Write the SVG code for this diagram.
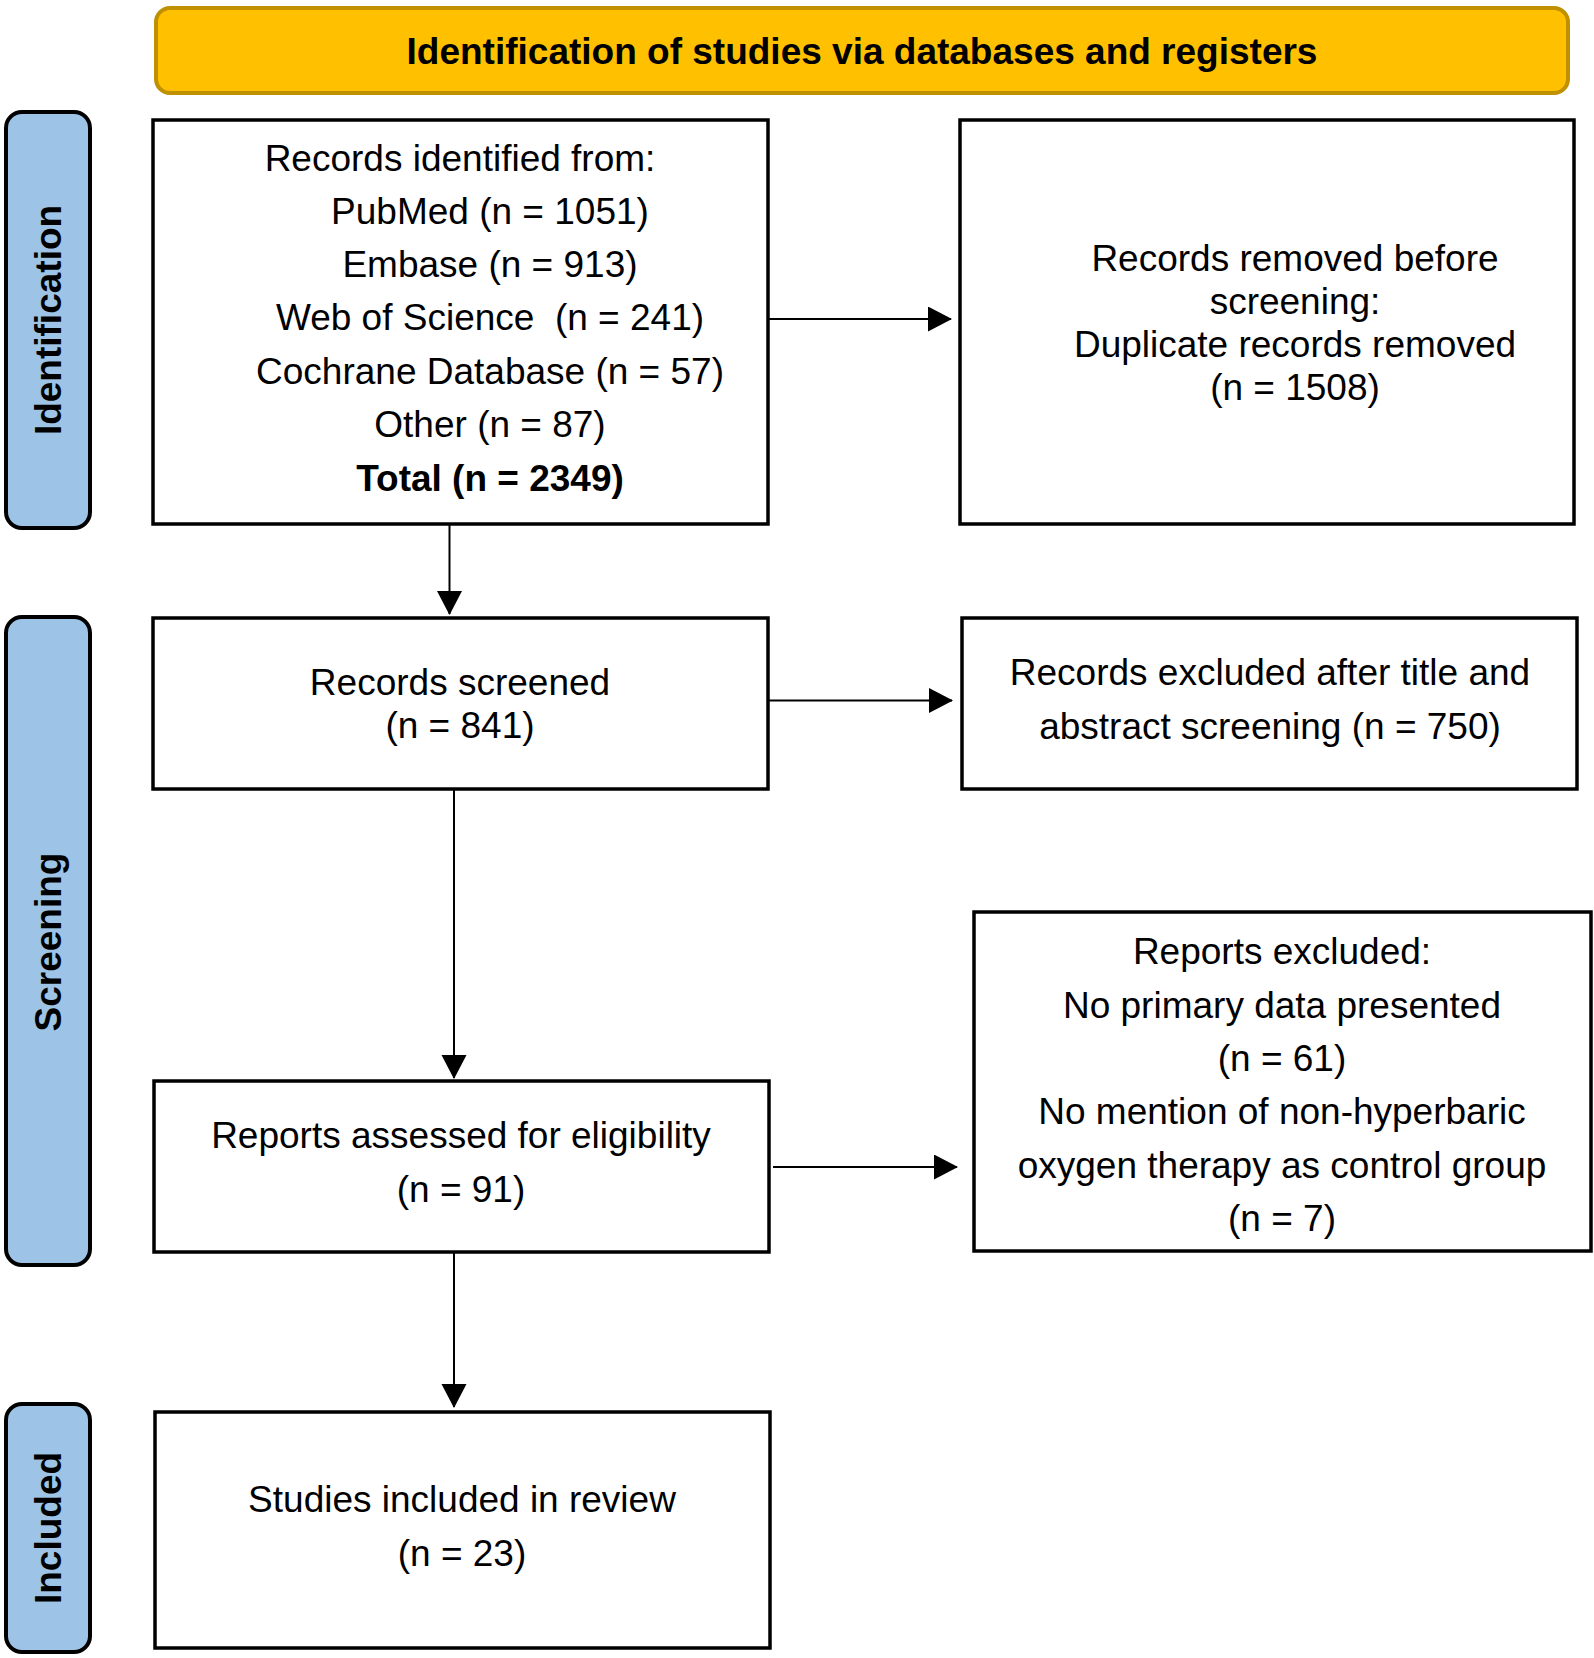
<svg xmlns="http://www.w3.org/2000/svg" width="1594" height="1658" viewBox="0 0 1594 1658">
<style>
  text { font-family: "Liberation Sans", Arial, sans-serif; font-size: 37px; fill: #000; }
  .c { text-anchor: middle; }
  .b { font-weight: bold; }
  .box { fill: #fff; stroke: #000; stroke-width: 3.5; }
  .side { fill: #9DC3E6; stroke: #000; stroke-width: 4; }
  .conn { stroke: #000; stroke-width: 2; fill: none; marker-end: url(#ah); }
</style>
<defs>
  <marker id="ah" markerUnits="userSpaceOnUse" markerWidth="24" markerHeight="26" refX="23" refY="12.5" orient="auto">
    <path d="M0,0 L24,12.5 L0,25 Z" fill="#000"/>
  </marker>
</defs>
<rect width="1594" height="1658" fill="#fff"/>

<g id="banner">
  <rect x="156" y="8" width="1412" height="85" rx="14" ry="14" fill="#FFC000" stroke="#BF9000" stroke-width="4"/>
  <text class="c b" x="862" y="64">Identification of studies via databases and registers</text>
</g>

<g id="label-identification">
  <rect class="side" x="6" y="112" width="84" height="416" rx="16" ry="16"/>
  <text class="c b" transform="translate(61,320) rotate(-90)">Identification</text>
</g>
<g id="label-screening">
  <rect class="side" x="6" y="617" width="84" height="648" rx="16" ry="16"/>
  <text class="c b" transform="translate(61,942) rotate(-90)">Screening</text>
</g>
<g id="label-included">
  <rect class="side" x="6" y="1404" width="84" height="248" rx="16" ry="16"/>
  <text class="c b" transform="translate(61,1528) rotate(-90)">Included</text>
</g>

<g id="records-identified">
  <rect class="box" x="153" y="120" width="615" height="404"/>
  <text class="c" x="460" y="171">Records identified from:</text>
  <text class="c" x="490" y="224">PubMed (n = 1051)</text>
  <text class="c" x="490" y="277">Embase (n = 913)</text>
  <text class="c" x="490" y="330" xml:space="preserve">Web of Science  (n = 241)</text>
  <text class="c" x="490" y="384">Cochrane Database (n = 57)</text>
  <text class="c" x="490" y="437">Other (n = 87)</text>
  <text class="c b" x="490" y="491">Total (n = 2349)</text>
</g>

<g id="records-removed">
  <rect class="box" x="960" y="120" width="614" height="404"/>
  <text class="c" x="1295" y="271">Records removed before</text>
  <text class="c" x="1295" y="314">screening:</text>
  <text class="c" x="1295" y="357">Duplicate records removed</text>
  <text class="c" x="1295" y="400">(n = 1508)</text>
</g>

<g id="records-screened">
  <rect class="box" x="153" y="618" width="615" height="171"/>
  <text class="c" x="460" y="695">Records screened</text>
  <text class="c" x="460" y="738">(n = 841)</text>
</g>

<g id="records-excluded">
  <rect class="box" x="962" y="618" width="615" height="171"/>
  <text class="c" x="1270" y="685">Records excluded after title and</text>
  <text class="c" x="1270" y="739">abstract screening (n = 750)</text>
</g>

<g id="reports-assessed">
  <rect class="box" x="154" y="1081" width="615" height="171"/>
  <text class="c" x="461" y="1148">Reports assessed for eligibility</text>
  <text class="c" x="461" y="1202">(n = 91)</text>
</g>

<g id="reports-excluded">
  <rect class="box" x="974" y="912" width="617" height="339"/>
  <text class="c" x="1282" y="964">Reports excluded:</text>
  <text class="c" x="1282" y="1018">No primary data presented</text>
  <text class="c" x="1282" y="1071">(n = 61)</text>
  <text class="c" x="1282" y="1124">No mention of non-hyperbaric</text>
  <text class="c" x="1282" y="1178">oxygen therapy as control group</text>
  <text class="c" x="1282" y="1231">(n = 7)</text>
</g>

<g id="studies-included">
  <rect class="box" x="155" y="1412" width="615" height="236"/>
  <text class="c" x="462" y="1512">Studies included in review</text>
  <text class="c" x="462" y="1566">(n = 23)</text>
</g>

<g id="connectors">
  <path class="conn" d="M768,319 L951,319"/>
  <path class="conn" d="M449.5,524 L449.5,614"/>
  <path class="conn" d="M768,700.5 L952,700.5"/>
  <path class="conn" d="M454,789 L454,1078"/>
  <path class="conn" d="M773,1167 L957,1167"/>
  <path class="conn" d="M454,1252 L454,1407"/>
</g>
</svg>
